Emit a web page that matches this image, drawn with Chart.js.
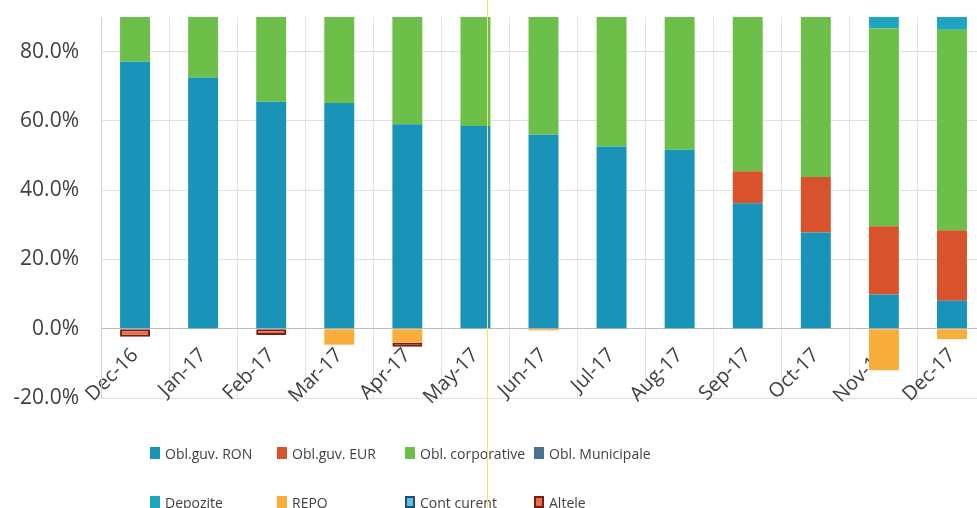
<!DOCTYPE html>
<html>
<head>
<meta charset="utf-8">
<script src="https://cdn.jsdelivr.net/npm/chart.js@4.4.1/dist/chart.umd.min.js"></script>
<style>
  html, body { margin: 0; padding: 0; background: #fff; overflow: hidden; }
  body { width: 977px; height: 508px; position: relative; font-family: 'Open Sans', sans-serif; }
  #wrap { position: absolute; left: 0; top: 0; width: 990px; height: 420px; }
  #legend { position: absolute; left: 0; top: 0; width: 977px; height: 508px; pointer-events: none; }
  .item { position: absolute; display: flex; align-items: center; font-size: 14px; color: #404040; white-space: nowrap; }
  .box { width: 10px; height: 12px; margin-right: 5px; box-sizing: border-box; }
  #scanline { position: absolute; left: 487px; top: 0; width: 1px; height: 508px; background: #f2e27c; }
</style>
</head>
<body>
<div id="wrap"><canvas id="chart"></canvas></div>
<div id="legend"></div>
<div id="scanline"></div>
<script>
const months = ['Dec-16', 'Jan-17', 'Feb-17', 'Mar-17', 'Apr-17', 'May-17', 'Jun-17',
  'Jul-17', 'Aug-17', 'Sep-17', 'Oct-17', 'Nov-17', 'Dec-17'];

// shares of the portfolio, in %
const oblGuvRon = [77.1, 72.5, 65.5, 65.2, 59.0, 58.5, 56.0, 52.6, 51.7, 36.2, 27.8, 9.9, 8.1];
const oblGuvEur = [0, 0, 0, 0, 0, 0, 0, 0, 0, 9.3, 16.0, 19.7, 20.3];
const oblCorporative = [25.2, 27.5, 36.3, 39.4, 46.0, 41.5, 44.5, 47.4, 48.3, 54.5, 56.2, 57.1, 57.9];
const oblMunicipale = [0, 0, 0, 0, 0, 0, 0, 0, 0, 0, 0, 0, 0];
const depozite = [0, 0, 0, 0, 0, 0, 0, 0, 0, 0, 0, 25.3, 16.7];
const repo = [0, 0, 0, -4.6, -4.0, 0, -0.5, 0, 0, 0, 0, -12.0, -3.0];
const contCurent = [0, 0, 0, 0, 0, 0, 0, 0, 0, 0, 0, 0, 0];
const altele = [-2.3, 0, -1.8, 0, -1.2, 0, 0, 0, 0, 0, 0, 0, 0];

const yTicks = [-20, 0, 20, 40, 60, 80];

const series = [
  { label: 'Obl.guv. RON', data: oblGuvRon, color: '#1a93b8' },
  { label: 'Obl.guv. EUR', data: oblGuvEur, color: '#d8532c' },
  { label: 'Obl. corporative', data: oblCorporative, color: '#6cc04a' },
  { label: 'Obl. Municipale', data: oblMunicipale, color: '#4a7194' },
  { label: 'Depozite', data: depozite, color: '#1fa6be' },
  { label: 'REPO', data: repo, color: '#f8ad3d' },
  { label: 'Cont curent', data: contCurent, color: '#5fc3e0', border: '#1f4e79' },
  { label: 'Altele', data: altele, color: '#e2704f', border: '#7a1b12' },
];

// legend laid out as a 4 x 2 grid like the original
const legendCols = [150, 277, 405, 534];
const legendRows = [453, 502];
const legend = document.getElementById('legend');
series.forEach((s, i) => {
  const item = document.createElement('div');
  item.className = 'item';
  item.style.left = legendCols[i % 4] + 'px';
  item.style.top = (legendRows[Math.floor(i / 4)] - 10) + 'px';
  item.style.height = '20px';
  const box = document.createElement('span');
  box.className = 'box';
  box.style.background = s.color;
  if (s.border) box.style.border = '2px solid ' + s.border;
  item.appendChild(box);
  item.appendChild(document.createTextNode(s.label));
  legend.appendChild(item);
});

new Chart(document.getElementById('chart'), {
  type: 'bar',
  data: {
    labels: months,
    datasets: series.map((s) => ({
      label: s.label,
      data: s.data,
      backgroundColor: s.color,
      borderColor: s.border || s.color,
      borderWidth: s.border ? 2 : 0,
      borderSkipped: false,
      categoryPercentage: 1,
      barPercentage: 0.44,
      clip: 0,
    })),
  },
  options: {
    responsive: true,
    maintainAspectRatio: false,
    animation: false,
    layout: { padding: { top: 17, bottom: 22, right: 4, left: 0 } },
    plugins: {
      legend: { display: false },
      tooltip: { enabled: false },
    },
    scales: {
      x: {
        stacked: true,
        position: { y: 0 },
        afterFit: (scale) => { scale.height = 0; },
        grid: { color: '#e4e4e4', drawTicks: false, offset: true },
        border: { color: '#bdbdbd' },
        ticks: {
          color: '#404040',
          font: { family: 'Open Sans', size: 20 },
          maxRotation: 45,
          minRotation: 45,
          autoSkip: false,
          padding: 15,
        },
      },
      y: {
        stacked: true,
        min: -20,
        max: 90,
        afterFit: (scale) => {
          scale.width = 101;
          scale.paddingTop = 0;
          scale.paddingBottom = 0;
        },
        afterBuildTicks: (scale) => {
          scale.ticks = yTicks.map((v) => ({ value: v }));
        },
        grid: { color: '#e0e0e0', drawTicks: false },
        border: { color: '#d0d0d0' },
        ticks: {
          color: '#404040',
          font: { family: 'Open Sans', size: 21 },
          padding: 22,
          callback: (v) => v.toFixed(1) + '%',
        },
      },
    },
  },
});
</script>
</body>
</html>
